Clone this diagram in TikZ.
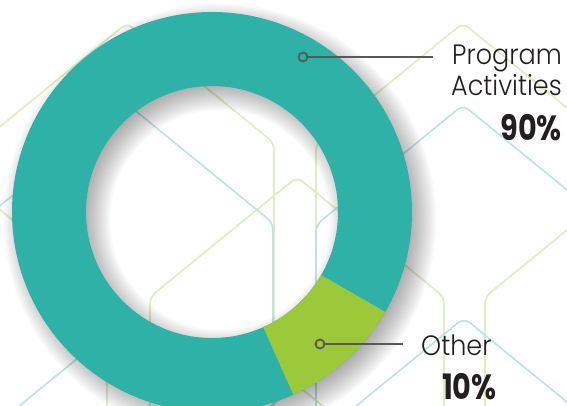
\documentclass[tikz,border=0pt]{standalone}
\usepackage{fontspec}
\setmainfont{Poppins}[UprightFont=* Light, BoldFont=* Bold, FakeStretch=0.91]
\newfontfamily\pctfont{Poppins}[UprightFont=* Bold, FakeStretch=0.82]
\usetikzlibrary{calc}
\definecolor{ringteal}{HTML}{2EB2A8}
\definecolor{ringgreen}{HTML}{9BC93A}
\definecolor{hexgreen}{HTML}{DFEDC2}
\definecolor{hexteal}{HTML}{BCE5E1}
\definecolor{calloutgray}{HTML}{58585A}
\definecolor{labeltext}{HTML}{231F20}
\begin{document}
\begin{tikzpicture}[x=1pt,y=1pt,
    hexg/.style={draw=hexgreen,line width=1.7pt,rounded corners=7pt},
    hext/.style={draw=hexteal,line width=1.7pt,rounded corners=7pt},
    dot/.style={circle,draw=calloutgray,line width=1.8pt,inner sep=0pt,minimum size=9pt},
    callout/.style={draw=calloutgray,line width=1.8pt},
    lbl/.style={text=labeltext,font=\fontsize{28}{30}\selectfont,inner sep=0pt},
    pct/.style={text=labeltext,font=\fontsize{35}{37}\pctfont,inner sep=0pt,text depth=0pt}]
    \useasboundingbox (0,0) rectangle (567,405);
    \clip (0,0) rectangle (567,405);
    \draw[hexg] (127,382)--++(147,-120)--++(0,-500)--++(-147,-120)--++(-147,120)--++(0,500)--cycle;
    \draw[hexg] (463,382)--++(147,-120)--++(0,-500)--++(-147,-120)--++(-147,120)--++(0,500)--cycle;
    \draw[hexg] (-40,228)--++(147,-120)--++(0,-500)--++(-147,-120)--++(-147,120)--++(0,500)--cycle;
    \draw[hexg] (297,228)--++(147,-120)--++(0,-500)--++(-147,-120)--++(-147,120)--++(0,500)--cycle;
    \draw[hexg] (632,228)--++(147,-120)--++(0,-500)--++(-147,-120)--++(-147,120)--++(0,500)--cycle;
    \draw[hexg] (297,20)--++(147,-120)--++(0,-500)--++(-147,-120)--++(-147,120)--++(0,500)--cycle;
    \draw[hext] (126,302)--++(147,-120)--++(0,-500)--++(-147,-120)--++(-147,120)--++(0,500)--cycle;
    \draw[hext] (463,300)--++(147,-120)--++(0,-500)--++(-147,-120)--++(-147,120)--++(0,500)--cycle;
    \draw[hext] (127,87)--++(147,-120)--++(0,-500)--++(-147,-120)--++(-147,120)--++(0,500)--cycle;
    \draw[hext] (464,87)--++(147,-120)--++(0,-500)--++(-147,-120)--++(-147,120)--++(0,500)--cycle;
    \coordinate (c) at (212,193);
    \coordinate (sc) at (220,185);
    \foreach \e in {-10,-8,...,16}
        \fill[black,opacity=0.028,even odd rule] (sc) circle (200+\e) (sc) circle (126-\e);
    \fill[ringteal,even odd rule] (c) circle (200) (c) circle (126);
    \fill[ringgreen] ($(c)+(-30:200)$) arc[start angle=-30,end angle=-66,radius=200]
        -- ($(c)+(-66:126)$) arc[start angle=-66,end angle=-30,radius=126] -- cycle;
    \node[dot] (pdot) at (303,348) {};
    \coordinate (pend) at (433,348);
    \draw[callout] (pdot) -- (pend);
    \node[dot] (odot) at (320,61) {};
    \coordinate (oend) at (403,61);
    \draw[callout] (odot) -- (oend);
    \node[lbl,anchor=base east] (prog) at (562,340) {Program};
    \node[lbl,anchor=base east] (act) at (562,309) {Activities};
    \node[pct,anchor=base east] (p90) at (562,265) {90\%};
    \node[lbl,anchor=base west] (other) at (421,50) {Other};
    \node[pct,anchor=base west] (p10) at (442,6) {10\%};
\end{tikzpicture}
\end{document}
